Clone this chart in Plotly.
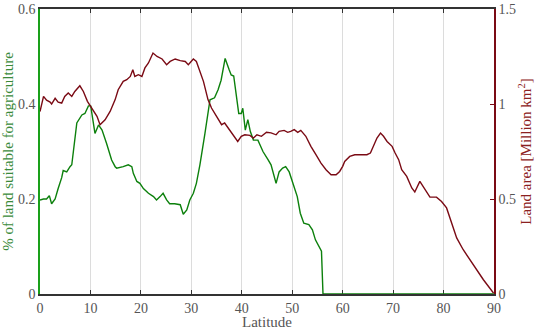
import plotly.graph_objects as go

# Share of land suitable for agriculture (left axis)
lat_agri = [0, 0.7, 1.3, 1.85, 2.3, 3, 3.6, 4.3, 4.6, 5.3, 5.95, 6.3, 7.3, 8.3, 8.9, 9.6, 10.05,
            10.9, 11.6, 12.3, 13.2, 14.2, 14.9, 15.2, 16.5, 17.5, 18.2, 18.5, 19.2, 19.8, 20.5,
            21.5, 22.5, 23.1, 23.8, 24.4, 25.1, 25.7, 26.7, 27.4, 27.8, 28.4, 29.1, 29.7, 30.4,
            31.0, 31.7, 32.7, 33.7, 34.6, 35.3, 35.9, 36.7, 37.5, 37.9, 38.4, 38.9, 39.4, 39.9,
            40.2, 40.7, 41.2, 41.7, 42.3, 43.2, 44.2, 45.2, 45.8, 46.8, 47.4, 48.1, 48.7, 49.4,
            50.0, 51.0, 51.6, 52.3, 53.3, 54.0, 54.6, 55.4, 55.8, 56.1, 60, 70, 80, 90]
agri_share = [0.198, 0.2, 0.2, 0.207, 0.19, 0.2, 0.222, 0.245, 0.26, 0.257, 0.268, 0.272, 0.36,
              0.377, 0.38, 0.396, 0.396, 0.338, 0.356, 0.345, 0.317, 0.282, 0.268, 0.265, 0.268,
              0.272, 0.268, 0.254, 0.237, 0.233, 0.222, 0.212, 0.205, 0.198, 0.205, 0.212, 0.198,
              0.19, 0.19, 0.188, 0.188, 0.168, 0.177, 0.198, 0.212, 0.233, 0.272, 0.338, 0.409,
              0.413, 0.43, 0.45, 0.496, 0.472, 0.461, 0.459, 0.415, 0.38, 0.38, 0.391, 0.345,
              0.367, 0.342, 0.324, 0.324, 0.3, 0.283, 0.272, 0.233, 0.257, 0.265, 0.268, 0.257,
              0.237, 0.205, 0.17, 0.149, 0.146, 0.135, 0.114, 0.1, 0.09, 0.0, 0.0, 0.0, 0.0, 0.0]

# Land area (right axis, million km^2)
lat_land = [0, 0.3, 0.7, 1.3, 2.0, 2.3, 3.0, 3.6, 4.3, 4.9, 5.6, 6.3, 6.9, 7.9, 8.6, 9.4, 10.3,
            11.3, 11.9, 12.9, 13.9, 14.9, 15.5, 16.5, 17.2, 17.9, 18.4, 18.8, 19.5, 20.2, 20.8,
            21.5, 22.4, 23.2, 24.2, 25.1, 25.8, 26.8, 27.8, 28.8, 29.4, 30.4, 31.0, 31.7, 32.4,
            33.3, 34.0, 35.0, 36.0, 36.6, 37.3, 37.9, 38.6, 39.2, 39.9, 40.6, 41.6, 42.3, 43.0,
            43.9, 44.9, 45.8, 46.8, 47.4, 48.4, 49.1, 49.7, 50.4, 51.1, 51.7, 52.7, 53.7, 54.7,
            55.7, 56.7, 57.7, 58.7, 59.4, 60.0, 60.4, 61.4, 62.4, 63.4, 64.8, 65.5, 66.1, 66.8,
            67.5, 68.1, 68.8, 69.8, 70.4, 71.1, 71.7, 72.7, 73.7, 74.3, 75.3, 76.3, 77.3, 78.6,
            79.6, 80.6, 81.6, 82.6, 83.9, 85.9, 87.9, 89.9]
land_area = [0.96, 0.99, 1.04, 1.02, 1.01, 1.0, 1.03, 1.01, 1.005, 1.04, 1.058, 1.04, 1.066,
             1.096, 1.066, 1.014, 0.979, 0.935, 0.891, 0.917, 0.961, 1.023, 1.075, 1.119, 1.128,
             1.145, 1.18, 1.145, 1.154, 1.145, 1.19, 1.216, 1.268, 1.25, 1.237, 1.207, 1.224,
             1.237, 1.228, 1.224, 1.207, 1.237, 1.224, 1.17, 1.119, 1.023, 0.979, 0.935, 0.891,
             0.9, 0.874, 0.856, 0.83, 0.803, 0.83, 0.838, 0.835, 0.821, 0.838, 0.83, 0.851,
             0.848, 0.838, 0.856, 0.861, 0.851, 0.856, 0.865, 0.851, 0.861, 0.83, 0.777, 0.733,
             0.689, 0.654, 0.628, 0.628, 0.645, 0.672, 0.698, 0.724, 0.733, 0.733, 0.733, 0.742,
             0.777, 0.821, 0.847, 0.83, 0.803, 0.777, 0.742, 0.707, 0.654, 0.619, 0.558, 0.537,
             0.593, 0.549, 0.51, 0.51, 0.487, 0.453, 0.374, 0.295, 0.233, 0.154, 0.075, 0.005]

x_ticks = [0, 10, 20, 30, 40, 50, 60, 70, 80, 90]
left_ticks = [0, 0.2, 0.4, 0.6]
left_labels = ["0", "0.2", "0.4", "0.6"]
right_ticks = [0, 0.5, 1, 1.5]
right_labels = ["0", "0.5", "1", "1.5"]

GREEN = "#0c800c"
MAROON = "#7a0a14"
FONT = "Liberation Serif, Times New Roman, DejaVu Serif, serif"

fig = go.Figure()
fig.add_trace(go.Scatter(x=lat_land, y=land_area, mode="lines", yaxis="y2",
                         line=dict(color=MAROON, width=1.4), showlegend=False))
fig.add_trace(go.Scatter(x=lat_agri, y=agri_share, mode="lines",
                         line=dict(color=GREEN, width=1.4), showlegend=False))

fig.update_layout(
    width=540, height=330,
    margin=dict(l=40, r=46, t=9, b=36, autoexpand=False),
    paper_bgcolor="white", plot_bgcolor="white",
    font=dict(family=FONT, size=14, color="#555555"),
    xaxis=dict(range=[0, 90], tickvals=x_ticks, ticks="inside", ticklen=4,
               tickcolor="#333333", showline=True, linecolor="#333333", linewidth=1.5,
               mirror="ticks", showgrid=True, gridcolor="#dcdcdc", gridwidth=1,
               zeroline=False, layer="below traces", automargin=False,
               tickfont=dict(family=FONT, size=14, color="#555555"),
               title=dict(text="Latitude", standoff=0, font=dict(family=FONT, size=15, color="#555555"))),
    yaxis=dict(range=[0, 0.6], tickvals=left_ticks, ticktext=left_labels, ticks="",
               showline=True, linecolor="#1aa01a", linewidth=1.5, showgrid=False,
               zeroline=False, layer="below traces", automargin=False,
               tickfont=dict(family=FONT, size=14, color="#555555"),
               title=dict(text="% of land suitable for agriculture", standoff=2,
                          font=dict(family=FONT, size=15, color="#3a8a3a"))),
    yaxis2=dict(range=[0, 1.5], tickvals=right_ticks, ticktext=right_labels, overlaying="y",
                side="right", ticks="inside", ticklen=4, tickcolor=MAROON,
                showline=True, linecolor=MAROON, linewidth=1.5, showgrid=False,
                zeroline=False, automargin=False,
                tickfont=dict(family=FONT, size=14, color="#555555"),
                title=dict(text="Land area [Million km<sup>2</sup>]", standoff=4,
                           font=dict(family=FONT, size=15, color="#8b2020"))),
)

fig.write_html("out.html")
